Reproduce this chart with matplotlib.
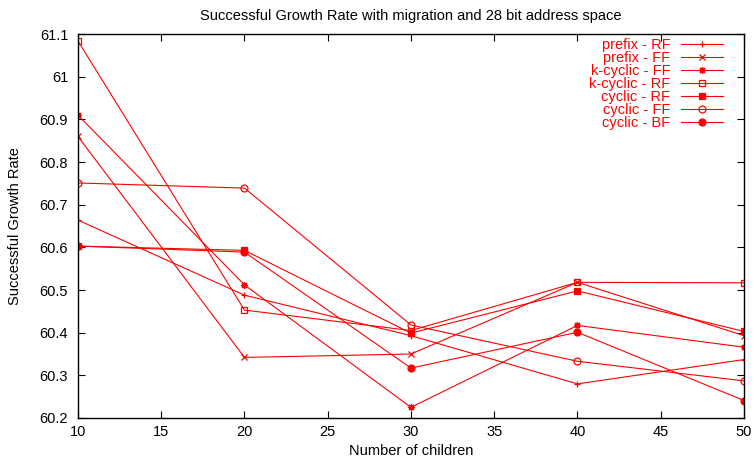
import matplotlib
matplotlib.use("Agg")
import matplotlib.pyplot as plt
from matplotlib.ticker import FuncFormatter

plt.rcParams["font.family"] = ["Liberation Sans", "DejaVu Sans"]

children = [10, 20, 30, 40, 50]

prefix_rf = [60.664, 60.488, 60.393, 60.280, 60.337]
prefix_ff = [60.860, 60.342, 60.350, 60.518, 60.393]
kcyclic_ff = [60.910, 60.512, 60.225, 60.417, 60.366]
kcyclic_rf = [61.084, 60.453, 60.405, 60.518, 60.517]
cyclic_rf = [60.603, 60.593, 60.399, 60.498, 60.403]
cyclic_ff = [60.751, 60.739, 60.418, 60.333, 60.287]
cyclic_bf = [60.603, 60.589, 60.317, 60.401, 60.241]

series = [
    ("prefix - RF", prefix_rf, "+", "full"),
    ("prefix - FF", prefix_ff, "x", "full"),
    ("k-cyclic - FF", kcyclic_ff, (8, 2, 0), "full"),
    ("k-cyclic - RF", kcyclic_rf, "s", "none"),
    ("cyclic - RF", cyclic_rf, "s", "full"),
    ("cyclic - FF", cyclic_ff, "o", "none"),
    ("cyclic - BF", cyclic_bf, "o", "full"),
]

FS = 10.5

fig = plt.figure(figsize=(7.54, 4.61), dpi=100)
ax = fig.add_axes([0.1034, 0.0933, 0.8833, 0.8327])

for label, vals, marker, fill in series:
    ax.plot(children, vals, color="red", lw=0.8, marker=marker, ms=5,
            mew=0.9, fillstyle=fill, label=label)

ax.set_xlim(10, 50)
ax.set_ylim(60.2, 61.1)
ax.set_xticks(range(10, 51, 5))
ax.set_yticks([60.2 + 0.1 * i for i in range(10)])
ax.yaxis.set_major_formatter(FuncFormatter(lambda v, p: f"{round(v, 1):g}"))
ax.tick_params(direction="in", top=True, right=True, length=5, width=0.8,
               labelsize=FS)
ax.tick_params(axis="y", pad=7)
ax.tick_params(axis="x", pad=5)
for sp in ax.spines.values():
    sp.set_linewidth(1.0)

ax.set_title("Successful Growth Rate with migration and 28 bit address space",
             fontsize=FS, pad=10)
ax.set_xlabel("Number of children", fontsize=FS, labelpad=4)
ax.set_ylabel("Successful Growth Rate", fontsize=FS, labelpad=13)

ax.legend(loc="upper right", frameon=False, markerfirst=False, labelcolor="red",
          fontsize=FS, handlelength=2.9, labelspacing=-0.07, handletextpad=0.7,
          borderaxespad=0.0, borderpad=0.3, bbox_to_anchor=(0.975, 1.0))

fig.savefig("out.png", dpi=100)
